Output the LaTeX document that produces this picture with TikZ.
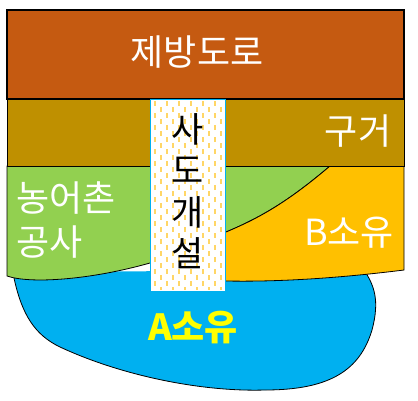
\documentclass[tikz,border=0pt]{standalone}
\usepackage{fontspec}
\setmainfont{Noto Sans CJK KR}
\definecolor{cbrown}{RGB}{197,90,17}
\definecolor{cgold}{RGB}{191,144,0}
\definecolor{cgreen}{RGB}{146,208,80}
\definecolor{corange}{RGB}{255,192,0}
\definecolor{cblue}{RGB}{0,176,240}
\definecolor{cdash}{RGB}{255,214,102}
\definecolor{cyel}{RGB}{255,255,0}
\tikzset{
  region/.style={draw=black, line width=0.8pt},
  lbl/.style={text=white, font=\fontsize{36}{38}\selectfont, inner sep=0pt},
  dashline/.style={draw=cdash, line width=1.1pt, dash pattern=on 5pt off 7pt},
}
\begin{document}
\begin{tikzpicture}[x=1pt,y=-1pt]
\useasboundingbox (0,0) rectangle (418,400);
% A area (blue)
\fill[cblue] (14,272) -- (14,278) .. controls (22,315) and (35,335) .. (60,347)
  .. controls (120,375) and (200,392) .. (265,390)
  .. controls (330,390) and (360,370) .. (372,330)
  .. controls (380,300) and (374,285) .. (364,270) -- cycle;
\draw[region] (14,278) .. controls (22,315) and (35,335) .. (60,347)
  .. controls (120,375) and (200,392) .. (265,390)
  .. controls (330,390) and (360,370) .. (372,330)
  .. controls (380,300) and (374,285) .. (364,270);
% green area
\path[region, fill=cgreen] (7,166) -- (330,166) .. controls (290,200) and (262,217) .. (226,232)
  -- (150,263) .. controls (90,280) and (30,284) .. (7,276) -- cycle;
% orange area
\path[region, fill=corange] (330,166) -- (404,166) -- (404,270)
  .. controls (340,278) and (280,282) .. (226,281) -- (200,281) -- (200,240) -- (226,232)
  .. controls (262,217) and (290,200) .. (330,166) -- cycle;
% layers
\path[region, fill=cgold] (7,99) rectangle (404,166);
\path[region, line width=1.2pt, fill=cbrown] (7,10) rectangle (404,99);
% strip
\fill[white] (150.7,99) rectangle (225.7,291);
\foreach \i in {0,2,...,11} {\draw[dashline] (155+\i*6,101) -- (155+\i*6,290);}
\foreach \i in {1,3,...,11} {\draw[dashline, dash phase=6pt] (155+\i*6,101) -- (155+\i*6,290);}
\draw[cblue, line width=0.8pt] (150.7,291) -- (150.7,99) -- (225.7,99) -- (225.7,291);
% labels
\node[lbl] (road) at (197,52) {제방도로};
\node[lbl] (ditch) at (358,131) {구거};
\node[lbl, anchor=west, align=left, font=\fontsize{36}{44}\selectfont] (farm) at (16,220) {농어촌\\공사};
\node[lbl] (bown) at (349,233) {B소유};
\node[lbl, text=cyel, font=\fontsize{36}{38}\selectfont\bfseries] (aown) at (193,328) {A소유};
\node[lbl, text=black, align=center, font=\fontsize{35}{41.5}\selectfont] (sado) at (188,191) {사\\도\\개\\설};
\end{tikzpicture}
\end{document}
